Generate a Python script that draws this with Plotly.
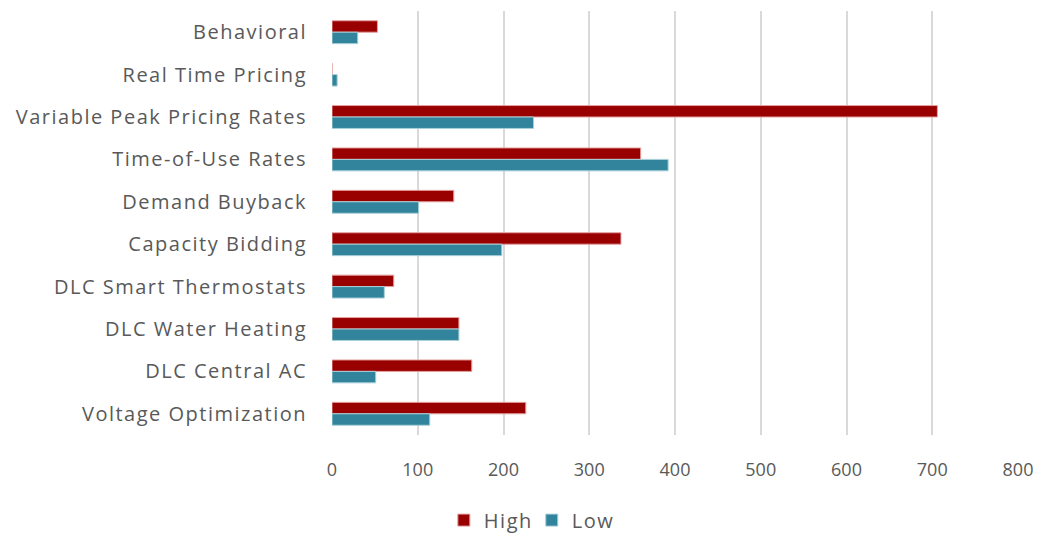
import plotly.graph_objects as go

categories = [
    "Behavioral",
    "Real Time Pricing",
    "Variable Peak Pricing Rates",
    "Time-of-Use Rates",
    "Demand Buyback",
    "Capacity Bidding",
    "DLC Smart Thermostats",
    "DLC Water Heating",
    "DLC Central AC",
    "Voltage Optimization",
]
high_values = [53, 0, 706, 360, 142, 337, 72, 148, 163, 226]
low_values = [30, 6, 235, 392, 101, 198, 61, 148, 51, 114]
x_ticks = [0, 100, 200, 300, 400, 500, 600, 700, 800]

HIGH_COLOR = "#990000"
LOW_COLOR = "#31849B"
TEXT_COLOR = "#595959"
FONT = "Open Sans"

fig = go.Figure()
fig.add_trace(go.Bar(
    name="High", y=categories, x=high_values, orientation="h",
    marker=dict(color=HIGH_COLOR, line=dict(color="#e6a0a0", width=1)),
))
fig.add_trace(go.Bar(
    name="Low", y=categories, x=low_values, orientation="h",
    marker=dict(color=LOW_COLOR, line=dict(color="#a8d0d8", width=1)),
))

fig.update_layout(
    width=1043, height=534,
    margin=dict(l=332, r=25, t=11, b=99, autoexpand=False),
    paper_bgcolor="white", plot_bgcolor="white",
    barmode="group", bargap=0.46, bargroupgap=0,
    font=dict(family=FONT, size=20, color=TEXT_COLOR),
    showlegend=True,
    legend=dict(
        orientation="h", x=0.508, xref="container", xanchor="center",
        y=0.026, yref="container", yanchor="middle",
        font=dict(size=20, color=TEXT_COLOR), itemwidth=30,
    ),
)
fig.update_xaxes(
    range=[0, 800], tickvals=x_ticks, showgrid=True, gridcolor="#d9d9d9",
    gridwidth=2, zeroline=False, showline=False, ticks="", automargin=False,
    ticklabelstandoff=22, tickfont=dict(size=18, color=TEXT_COLOR),
)
fig.update_yaxes(
    autorange="reversed", showgrid=False, showline=False, ticks="", automargin=False,
    ticklabelstandoff=24, tickfont=dict(size=20, color=TEXT_COLOR),
)

# Slightly tracked-out lettering for category and legend labels
spacing_css = (
    "var s=document.createElement('style');"
    "s.textContent='.ytick text, .legendtext {letter-spacing: 1.5px;}';"
    "document.head.appendChild(s);"
)
fig.write_html("out.html", post_script=spacing_css)
